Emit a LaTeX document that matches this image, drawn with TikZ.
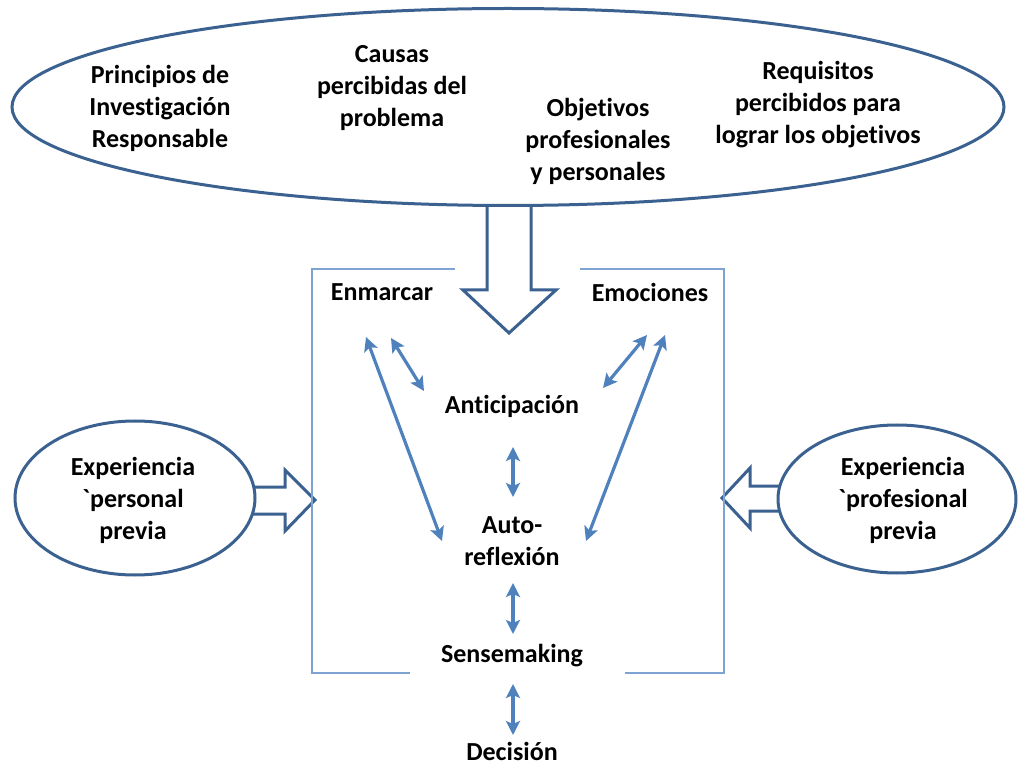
\documentclass[tikz,border=0pt]{standalone}
\usepackage{fontspec}
\setmainfont{Carlito}[Ligatures=NoCommon]
% a copy of the family without TeX quote ligatures, for the literal grave accent
\newfontfamily\gravefont{Carlito}
\newcommand{\grv}{{\gravefont\symbol{96}}}
\usetikzlibrary{shapes.geometric,arrows.meta}
\definecolor{darkline}{HTML}{3B6190}
\definecolor{boxline}{HTML}{7EA3D2}
\definecolor{arrowblue}{HTML}{4F81BD}
\begin{document}
\begin{tikzpicture}[x=1pt,y=-1pt,
  lbl/.style={font=\bfseries\fontsize{26}{32}\selectfont, align=center, inner sep=0pt},
  oval/.style={ellipse, draw=darkline, line width=3pt, fill=white, inner sep=0pt},
  blockarrow/.style={draw=darkline, line width=3pt, fill=white, line join=miter},
  framebox/.style={draw=boxline, line width=1.4pt},
  dbl/.style={arrowblue, line width=3.2pt, {Stealth[length=14pt,width=14pt,inset=3pt]}-{Stealth[length=14pt,width=14pt,inset=3pt]}}]
\useasboundingbox (0,0) rectangle (1021,767);

% hollow block arrows (drawn before the ovals so the ovals hide their bases)
\draw[blockarrow] (487,195) -- (487,290) -- (463,290) -- (509,333) -- (556,290) -- (531,290) -- (531,195);
\draw[blockarrow] (240,487) -- (285,487) -- (285,470) -- (315,500) -- (285,531) -- (285,514) -- (240,514);
\draw[blockarrow] (792,486) -- (750,486) -- (750,468) -- (722,498) -- (750,528) -- (750,511) -- (792,511);

% outer ovals
\node[oval, minimum width=992pt, minimum height=197pt] (top) at (508,107) {};
\node[oval, minimum width=240pt, minimum height=154pt] (pers) at (135,498) {};
\node[oval, minimum width=238pt, minimum height=148pt] (prof) at (897,499) {};

\node[lbl] (pir) at (160,108) {Principios de\\Investigación\\Responsable};
\node[lbl] (cau) at (392,88) {Causas\\percibidas del\\problema};
\node[lbl] (obj) at (598,141) {Objetivos\\profesionales\\y personales};
\node[lbl] (req) at (818,105) {Requisitos\\percibidos para\\lograr los objetivos};
\node[lbl] (pertx) at (133,500) {Experiencia\\\grv personal\\previa};
\node[lbl] (protx) at (903,500) {Experiencia\\\grv profesional\\previa};

% open frame around the inner process
\draw[framebox] (455,269) -- (312,269) -- (312,673) -- (410,673);
\draw[framebox] (580,269) -- (724,269) -- (724,673) -- (625,673);

% inner labels
\node[lbl] (enm) at (382,292) {Enmarcar};
\node[lbl] (emo) at (650,292) {Emociones};
\node[lbl] (ant) at (512,406) {Anticipación};
\node[lbl] (auto) at (512,541) {Auto-\\reflexión};
\node[lbl] (sen) at (512,656) {Sensemaking};
\node[lbl] (dec) at (512,751) {Decisión};

% arrow end points
\coordinate (enmA) at (366,337);
\coordinate (enmB) at (391,338);
\coordinate (emoA) at (647,335);
\coordinate (emoB) at (665,335);
\coordinate (antL) at (424,391);
\coordinate (antR) at (603,388);
\coordinate (autoL) at (442,541);
\coordinate (autoR) at (586,541);

\draw[dbl] (enmA) -- (autoL);
\draw[dbl] (enmB) -- (antL);
\draw[dbl] (emoA) -- (antR);
\draw[dbl] (emoB) -- (autoR);
\draw[dbl] (513,447) -- (513,497);
\draw[dbl] (513,583) -- (513,634);
\draw[dbl] (513,684) -- (513,735);
\end{tikzpicture}
\end{document}
